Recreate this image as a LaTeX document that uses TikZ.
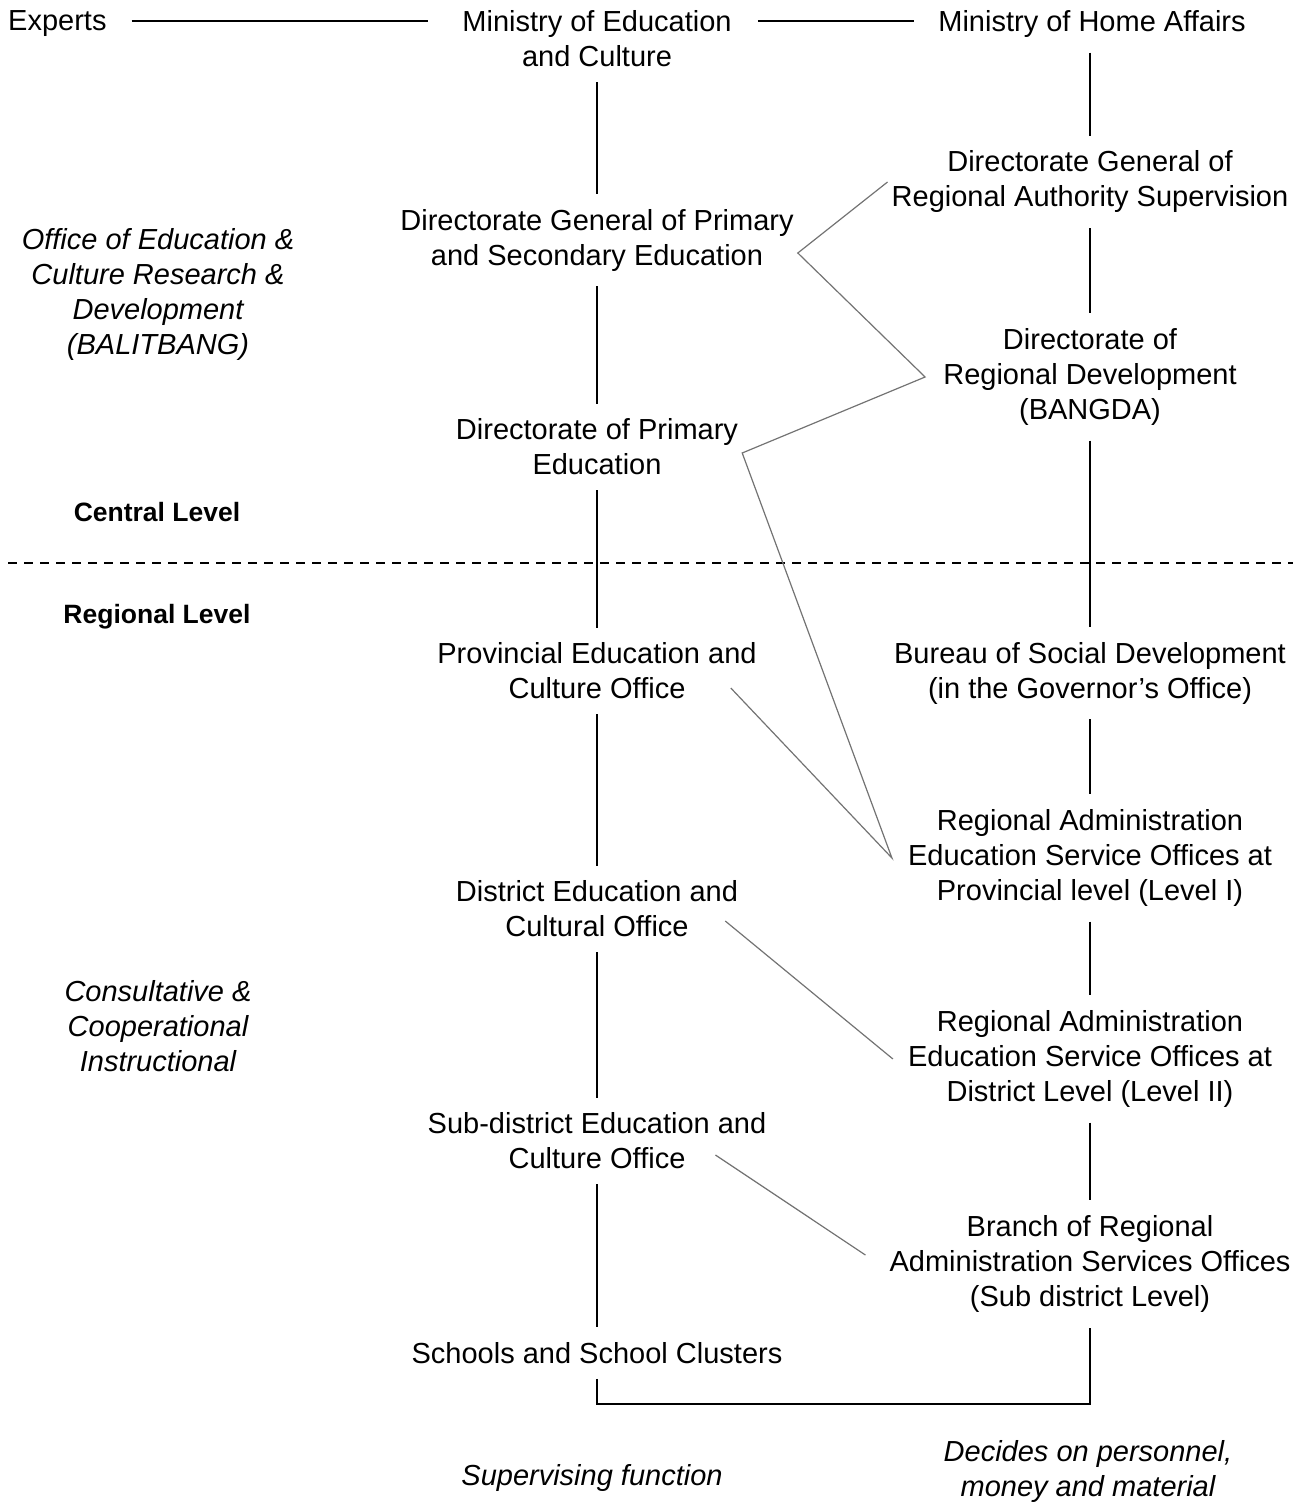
\documentclass[tikz,border=0pt]{standalone}
\usepackage{fontspec}
\setmainfont{Liberation Sans}
\begin{document}
\begin{tikzpicture}[x=1pt,y=-1pt,
  every node/.style={align=center,inner xsep=4pt,inner ysep=15pt,font=\fontsize{29}{35}\selectfont},
  lbl/.style={font=\fontsize{29}{35}\selectfont\itshape},
  lvl/.style={font=\fontsize{26.5}{32}\selectfont\bfseries},
  link/.style={line width=1.3pt},
  diag/.style={line width=1.2pt,black!55}]
\useasboundingbox (0,0) rectangle (1305,1504);

% education column
\node[anchor=west] (experts) at (4,24) {Experts};
\node (moec) at (597,39) {Ministry of Education\\and Culture};
\node (dgpse) at (597,240) {Directorate General of Primary\\and Secondary Education};
\node (dpe) at (597,447) {Directorate of Primary\\Education};
\node (peco) at (597,671) {Provincial Education and\\Culture Office};
\node (deco) at (597,909) {District Education and\\Cultural Office};
\node (sdeco) at (597,1141) {Sub-district Education and\\Culture Office};
\node (schools) at (597,1353) {Schools and School Clusters};

% home affairs column
\node (moha) at (1092,24) {Ministry of Home Affairs};
\node (dgras) at (1090,182) {Directorate General of\\Regional Authority Supervision};
\node (drd) at (1090,377) {Directorate of\\Regional Development\\(BANGDA)};
\node (bsd) at (1090,673) {Bureau of Social Development\\(in the Governor’s Office)};
\node (raes1) at (1090,858) {Regional Administration\\Education Service Offices at\\Provincial level (Level I)};
\node (raes2) at (1090,1059) {Regional Administration\\Education Service Offices at\\District Level (Level II)};
\node (brso) at (1090,1264) {Branch of Regional\\Administration Services Offices\\(Sub district Level)};

% side and bottom labels
\node[lbl] (balitbang) at (158,294) {Office of Education \&\\Culture Research \&\\Development\\(BALITBANG)};
\node[lvl] (central) at (157,512) {Central Level};
\node[lvl] (regional) at (157,617) {Regional Level};
\node[lbl] (consult) at (158,1026) {Consultative \&\\Cooperational\\Instructional};
\node[lbl] (superv) at (592,1478) {Supervising function};
\node[lbl] (decides) at (1088,1471) {Decides on personnel,\\money and material};

\draw[link, shorten <=21pt, shorten >=30pt] ([yshift=3pt]experts.east) -- ([yshift=3pt]experts.east -| moec.west);
\draw[link, shorten <=22pt, shorten >=20pt] ([yshift=3pt]moec.east |- moha.west) -- ([yshift=3pt]moha.west);

\foreach \a/\b in {dgpse/dpe, dpe/peco, peco/deco, deco/sdeco, sdeco/schools,
  dgras/drd, drd/bsd, bsd/raes1, raes1/raes2, raes2/brso}
  \draw[link] (\a) -- (\b);
\draw[link] (moec) -- (dgpse);
\draw[link] (moha.south -| dgras.north) -- (dgras.north);

\coordinate (base) at (840,1404);
\draw[link] (schools.south) |- (base) -| (brso.south);

% central / regional divide
\draw[line width=1.3pt, dash pattern=on 9pt off 7pt] (8,563) -- (1293,563);

\draw[diag] (dgras.west) -- ([yshift=-13pt]dgpse.east) -- ([xshift=-14pt]drd.west)
  -- ([yshift=-6pt]dpe.east) -- ([xshift=-12pt]raes1.west) -- ([xshift=-30pt,yshift=-17pt]peco.east);
\draw[diag] ([xshift=-17pt,yshift=-12pt]deco.east) -- ([xshift=-11pt]raes2.west);
\draw[diag] ([xshift=-55pt,yshift=-14pt]sdeco.east) -- ([xshift=-20pt,yshift=9pt]brso.west);
\end{tikzpicture}
\end{document}
